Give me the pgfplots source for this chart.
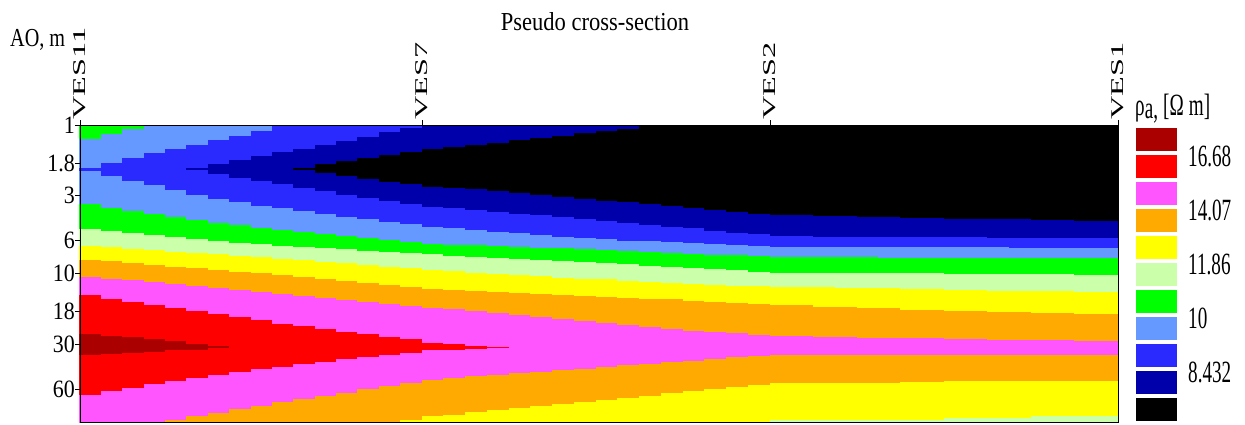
\documentclass[border=0pt]{standalone}
\usepackage{pgfplots}
\pgfplotsset{compat=1.18}
\usepgfplotslibrary{patchplots}
\usepackage{pgfplotstable}
\usepackage{fontspec}
\setmainfont{Liberation Serif}
\newfontfamily\tickfont{Liberation Serif}[FakeStretch=0.88]
\newfontfamily\labelfont{Liberation Serif}[FakeStretch=0.78]
\newfontfamily\headfont{Liberation Serif}[FakeStretch=0.87]
\newfontfamily\barfont{Liberation Serif}[FakeStretch=0.62]

\definecolor{cBlack}{RGB}{0,0,0}
\definecolor{cDkBlue}{RGB}{0,0,170}
\definecolor{cBlue}{RGB}{42,42,255}
\definecolor{cLtBlue}{RGB}{102,153,255}
\definecolor{cGreen}{RGB}{0,255,0}
\definecolor{cLtGreen}{RGB}{204,255,170}
\definecolor{cYellow}{RGB}{255,255,0}
\definecolor{cOrange}{RGB}{255,170,0}
\definecolor{cMagenta}{RGB}{255,85,255}
\definecolor{cRed}{RGB}{255,0,0}
\definecolor{cDkRed}{RGB}{170,0,0}

% apparent resistivity (Ohm m) at each sounding (x) and spacing AO (m)
\pgfplotstableread{
x ao rho
0 1 10.39
342 1 8.42
690 1 7.42
1038 1 6.93
0 1.122 10.20
342 1.122 8.21
690 1.122 7.24
1038 1.122 6.93
0 1.259 10.00
342 1.259 8.01
690 1.259 7.07
1038 1.259 6.93
0 1.413 9.78
342 1.413 7.82
690 1.413 6.90
1038 1.413 6.93
0 1.585 9.57
342 1.585 7.54
690 1.585 6.87
1038 1.585 6.93
0 1.778 9.35
342 1.778 7.24
690 1.778 6.87
1038 1.778 6.93
0 1.995 9.14
342 1.995 6.96
690 1.995 6.87
1038 1.995 6.93
0 2.239 9.37
342 2.239 7.29
690 2.239 6.87
1038 2.239 6.93
0 2.512 9.53
342 2.512 7.66
690 2.512 6.90
1038 2.512 6.93
0 2.818 9.70
342 2.818 7.93
690 2.818 7.03
1038 2.818 6.96
0 3.162 9.87
342 3.162 8.17
690 3.162 7.25
1038 3.162 7.11
0 3.548 10.06
342 3.548 8.42
690 3.548 7.47
1038 3.548 7.29
0 3.981 10.31
342 3.981 8.70
690 3.981 7.70
1038 3.981 7.50
0 4.467 10.58
342 4.467 8.97
690 4.467 7.93
1038 4.467 7.73
0 5.012 10.85
342 5.012 9.28
690 5.012 8.17
1038 5.012 8.00
0 5.623 11.27
342 5.623 9.62
690 5.623 8.41
1038 5.623 8.29
0 6.310 11.72
342 6.310 9.99
690 6.310 8.94
1038 6.310 8.78
0 7.079 12.24
342 7.079 10.63
690 7.079 9.52
1038 7.079 9.44
0 7.943 12.82
342 7.943 11.16
690 7.943 10.09
1038 7.943 10.03
0 8.913 13.32
342 8.913 11.62
690 8.913 10.50
1038 8.913 10.42
0 10 13.82
342 10 12.04
690 10 10.93
1038 10 10.81
0 11.22 14.33
342 11.22 12.45
690 11.22 11.42
1038 11.22 11.22
0 12.59 14.84
342 12.59 12.88
690 12.59 11.94
1038 12.59 11.65
0 14.13 15.34
342 14.13 13.34
690 14.13 12.37
1038 14.13 12.03
0 15.85 15.58
342 15.85 13.82
690 15.85 12.81
1038 15.85 12.37
0 17.78 15.82
342 17.78 14.19
690 17.78 13.10
1038 17.78 12.71
0 19.95 16.07
342 19.95 14.44
690 19.95 13.36
1038 19.95 13.04
0 22.39 16.31
342 22.39 14.69
690 22.39 13.62
1038 22.39 13.35
0 25.12 16.57
342 25.12 14.96
690 25.12 13.89
1038 25.12 13.66
0 28.18 17.13
342 28.18 15.23
690 28.18 14.28
1038 28.18 13.97
0 31.62 17.56
342 31.62 15.45
690 31.62 14.84
1038 31.62 14.78
0 35.48 16.67
342 35.48 15.14
690 35.48 14.05
1038 35.48 14.05
0 39.81 16.41
342 39.81 14.80
690 39.81 13.74
1038 39.81 13.67
0 44.67 16.16
342 44.67 14.48
690 44.67 13.43
1038 44.67 13.31
0 50.12 15.90
342 50.12 14.17
690 50.12 13.14
1038 50.12 12.94
0 56.23 15.65
342 56.23 13.91
690 56.23 12.86
1038 56.23 12.70
0 63.10 15.41
342 63.10 13.67
690 63.10 12.64
1038 63.10 12.47
0 70.79 15.16
342 70.79 13.44
690 70.79 12.44
1038 70.79 12.25
0 79.43 14.93
342 79.43 13.20
690 79.43 12.22
1038 79.43 12.03
0 89.13 14.69
342 89.13 12.98
690 89.13 12.01
1038 89.13 11.82
0 100 14.47
342 100 12.77
690 100 11.81
1038 100 11.61
}\vesdata

\begin{document}
\begin{tikzpicture}
\useasboundingbox (-80bp,-3bp) rectangle (1165bp,422bp);

\begin{axis}[
  name=main, at={(0,0)}, anchor=south west,
  scale only axis, width=1038bp, height=297bp,
  xmin=0, xmax=1038, ymode=log, ymin=1, ymax=100, y dir=reverse,
  axis on top,
  axis line style={line width=0.8bp},
  tick style={black, line width=0.8bp},
  tick align=outside, major tick length=5bp,
  xtick={0,342,690,1038},
  xticklabels={{\scalebox{1.8}[1]{VES11}},{\scalebox{1.8}[1]{VES7}},{\scalebox{1.8}[1]{VES2}},{\scalebox{1.8}[1]{VES1}}},
  xtick pos=upper, xticklabel pos=upper,
  xticklabel style={rotate=90, anchor=west, font=\fontsize{18}{20}\selectfont, inner sep=0pt},
  ytick={1,1.8,3,6,10,18,30,60},
  yticklabels={1,1.8,3,6,10,18,30,60},
  ytick pos=left, yminorticks=false,
  yticklabel style={font=\tickfont\fontsize{25}{27}\selectfont, inner sep=0pt, anchor=east},
  % one colour per unit of the 12 equal steps of ln(rho) between the limits below
  colormap={ves}{rgb255=(0,0,0) rgb255=(0,0,0) rgb255=(0,0,170) rgb255=(42,42,255)
    rgb255=(102,153,255) rgb255=(0,255,0) rgb255=(204,255,170) rgb255=(255,255,0)
    rgb255=(255,170,0) rgb255=(255,85,255) rgb255=(255,0,0) rgb255=(170,0,0)},
  colormap access=piecewise constant,
  point meta min=1.876190, point meta max=2.899538,
]
\addplot[surf, shader=interp, patch type=bilinear, mesh/cols=4,
  point meta={ln(\thisrow{rho})}] table[x=x, y=ao] {\vesdata};
\end{axis}

\node[font=\headfont\fontsize{26}{28}\selectfont] at ([xshift=-4bp, yshift=103bp]main.north) {Pseudo cross-section};
\node[font=\labelfont\fontsize{26}{28}\selectfont, anchor=west, inner sep=0pt] at ([xshift=-70bp, yshift=85bp]main.north west) {AO, m};

% colour scale
\begin{axis}[
  name=cbar, at={(1056bp,-1bp)}, anchor=south west,
  scale only axis, width=41bp, height=297bp,
  xmin=0, xmax=1, ymin=0, ymax=11,
  axis line style={draw=none}, xtick=\empty,
  ytick={2,4,6,8,10}, yticklabels={8.432,10,11.86,14.07,16.68},
  ytick pos=right, yticklabel pos=right, major tick length=0pt,
  yticklabel style={font=\barfont\fontsize{31}{33}\selectfont, anchor=west, inner sep=0pt, xshift=11bp, yshift=-3bp},
]
\addplot[fill=cBlack, draw=none] coordinates {(0,0.07) (1,0.07) (1,0.93) (0,0.93)} -- cycle;
\addplot[fill=cDkBlue, draw=none] coordinates {(0,1.07) (1,1.07) (1,1.93) (0,1.93)} -- cycle;
\addplot[fill=cBlue, draw=none] coordinates {(0,2.07) (1,2.07) (1,2.93) (0,2.93)} -- cycle;
\addplot[fill=cLtBlue, draw=none] coordinates {(0,3.07) (1,3.07) (1,3.93) (0,3.93)} -- cycle;
\addplot[fill=cGreen, draw=none] coordinates {(0,4.07) (1,4.07) (1,4.93) (0,4.93)} -- cycle;
\addplot[fill=cLtGreen, draw=none] coordinates {(0,5.07) (1,5.07) (1,5.93) (0,5.93)} -- cycle;
\addplot[fill=cYellow, draw=none] coordinates {(0,6.07) (1,6.07) (1,6.93) (0,6.93)} -- cycle;
\addplot[fill=cOrange, draw=none] coordinates {(0,7.07) (1,7.07) (1,7.93) (0,7.93)} -- cycle;
\addplot[fill=cMagenta, draw=none] coordinates {(0,8.07) (1,8.07) (1,8.93) (0,8.93)} -- cycle;
\addplot[fill=cRed, draw=none] coordinates {(0,9.07) (1,9.07) (1,9.93) (0,9.93)} -- cycle;
\addplot[fill=cDkRed, draw=none] coordinates {(0,10.07) (1,10.07) (1,10.93) (0,10.93)} -- cycle;
\end{axis}
\node[font=\barfont\fontsize{31}{33}\selectfont, anchor=south west, inner sep=0pt] at ([xshift=-1bp, yshift=3bp]cbar.north west) {ρ\raisebox{-3bp}{a,}\,[Ω\,m]};
\end{tikzpicture}
\end{document}
